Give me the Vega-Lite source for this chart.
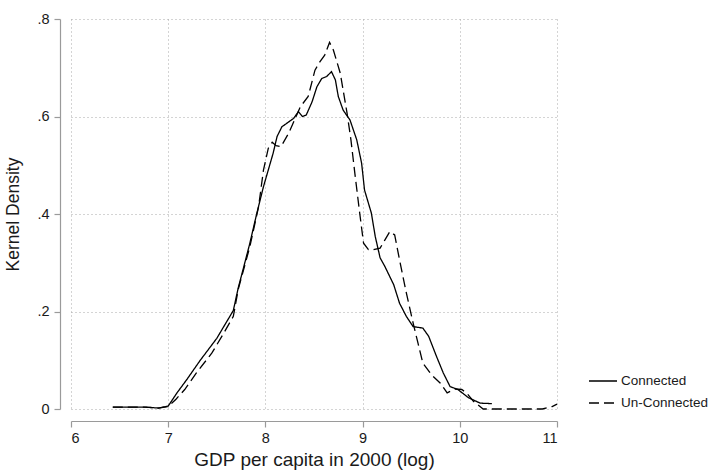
{
  "$schema": "https://vega.github.io/schema/vega-lite/v6.json",
  "autosize": {"type": "none"},
  "padding": {"left": 71, "top": 19, "right": 154, "bottom": 61},
  "width": 486,
  "height": 390,
  "background": "white",
  "config": {
    "font": "Liberation Sans",
    "view": {"stroke": null},
    "axis": {
      "gridColor": "#a8a8a8",
      "gridDash": [1, 3],
      "gridWidth": 1,
      "domainColor": "#9a9a9a",
      "tickColor": "#9a9a9a",
      "domainWidth": 1.2,
      "tickWidth": 1.2,
      "tickSize": 6,
      "labelColor": "#1a1a1a",
      "labelFont": "Liberation Sans",
      "labelFontSize": 14.5,
      "titleFont": "Liberation Sans",
      "titleFontWeight": "normal",
      "titleColor": "#1a1a1a"
    }
  },
  "data": {
    "values": [
      {"x": 6.43, "y": 0.004, "g": "Connected"},
      {"x": 6.6, "y": 0.004, "g": "Connected"},
      {"x": 6.75, "y": 0.004, "g": "Connected"},
      {"x": 6.9, "y": 0.002, "g": "Connected"},
      {"x": 7.0, "y": 0.006, "g": "Connected"},
      {"x": 7.09, "y": 0.033, "g": "Connected"},
      {"x": 7.19, "y": 0.06, "g": "Connected"},
      {"x": 7.33, "y": 0.1, "g": "Connected"},
      {"x": 7.5, "y": 0.145, "g": "Connected"},
      {"x": 7.67, "y": 0.202, "g": "Connected"},
      {"x": 7.72, "y": 0.248, "g": "Connected"},
      {"x": 7.77, "y": 0.286, "g": "Connected"},
      {"x": 7.84, "y": 0.34, "g": "Connected"},
      {"x": 7.91, "y": 0.4, "g": "Connected"},
      {"x": 7.98, "y": 0.456, "g": "Connected"},
      {"x": 8.08, "y": 0.525, "g": "Connected"},
      {"x": 8.12, "y": 0.559, "g": "Connected"},
      {"x": 8.17, "y": 0.579, "g": "Connected"},
      {"x": 8.24, "y": 0.589, "g": "Connected"},
      {"x": 8.29, "y": 0.596, "g": "Connected"},
      {"x": 8.34, "y": 0.61, "g": "Connected"},
      {"x": 8.38, "y": 0.6, "g": "Connected"},
      {"x": 8.42, "y": 0.603, "g": "Connected"},
      {"x": 8.48, "y": 0.63, "g": "Connected"},
      {"x": 8.53, "y": 0.661, "g": "Connected"},
      {"x": 8.58, "y": 0.678, "g": "Connected"},
      {"x": 8.63, "y": 0.682, "g": "Connected"},
      {"x": 8.68, "y": 0.692, "g": "Connected"},
      {"x": 8.72, "y": 0.675, "g": "Connected"},
      {"x": 8.75, "y": 0.641, "g": "Connected"},
      {"x": 8.8, "y": 0.613, "g": "Connected"},
      {"x": 8.87, "y": 0.593, "g": "Connected"},
      {"x": 8.94, "y": 0.552, "g": "Connected"},
      {"x": 8.99, "y": 0.504, "g": "Connected"},
      {"x": 9.02, "y": 0.449, "g": "Connected"},
      {"x": 9.09, "y": 0.402, "g": "Connected"},
      {"x": 9.13, "y": 0.354, "g": "Connected"},
      {"x": 9.18, "y": 0.31, "g": "Connected"},
      {"x": 9.23, "y": 0.292, "g": "Connected"},
      {"x": 9.32, "y": 0.255, "g": "Connected"},
      {"x": 9.38, "y": 0.217, "g": "Connected"},
      {"x": 9.45, "y": 0.19, "g": "Connected"},
      {"x": 9.52, "y": 0.169, "g": "Connected"},
      {"x": 9.62, "y": 0.166, "g": "Connected"},
      {"x": 9.68, "y": 0.149, "g": "Connected"},
      {"x": 9.76, "y": 0.108, "g": "Connected"},
      {"x": 9.83, "y": 0.074, "g": "Connected"},
      {"x": 9.9, "y": 0.046, "g": "Connected"},
      {"x": 9.98, "y": 0.04, "g": "Connected"},
      {"x": 10.09, "y": 0.023, "g": "Connected"},
      {"x": 10.21, "y": 0.012, "g": "Connected"},
      {"x": 10.33, "y": 0.011, "g": "Connected"},
      {"x": 6.43, "y": 0.004, "g": "Un-Connected"},
      {"x": 6.6, "y": 0.004, "g": "Un-Connected"},
      {"x": 6.75, "y": 0.004, "g": "Un-Connected"},
      {"x": 6.9, "y": 0.002, "g": "Un-Connected"},
      {"x": 7.0, "y": 0.005, "g": "Un-Connected"},
      {"x": 7.08, "y": 0.02, "g": "Un-Connected"},
      {"x": 7.17, "y": 0.04, "g": "Un-Connected"},
      {"x": 7.29, "y": 0.074, "g": "Un-Connected"},
      {"x": 7.45, "y": 0.115, "g": "Un-Connected"},
      {"x": 7.57, "y": 0.155, "g": "Un-Connected"},
      {"x": 7.67, "y": 0.19, "g": "Un-Connected"},
      {"x": 7.72, "y": 0.245, "g": "Un-Connected"},
      {"x": 7.84, "y": 0.333, "g": "Un-Connected"},
      {"x": 7.93, "y": 0.415, "g": "Un-Connected"},
      {"x": 7.98, "y": 0.49, "g": "Un-Connected"},
      {"x": 8.03, "y": 0.535, "g": "Un-Connected"},
      {"x": 8.07, "y": 0.547, "g": "Un-Connected"},
      {"x": 8.11, "y": 0.54, "g": "Un-Connected"},
      {"x": 8.16, "y": 0.538, "g": "Un-Connected"},
      {"x": 8.24, "y": 0.566, "g": "Un-Connected"},
      {"x": 8.3, "y": 0.593, "g": "Un-Connected"},
      {"x": 8.36, "y": 0.62, "g": "Un-Connected"},
      {"x": 8.44, "y": 0.641, "g": "Un-Connected"},
      {"x": 8.51, "y": 0.695, "g": "Un-Connected"},
      {"x": 8.56, "y": 0.712, "g": "Un-Connected"},
      {"x": 8.61, "y": 0.726, "g": "Un-Connected"},
      {"x": 8.66, "y": 0.752, "g": "Un-Connected"},
      {"x": 8.7, "y": 0.736, "g": "Un-Connected"},
      {"x": 8.77, "y": 0.689, "g": "Un-Connected"},
      {"x": 8.84, "y": 0.607, "g": "Un-Connected"},
      {"x": 8.88, "y": 0.552, "g": "Un-Connected"},
      {"x": 8.92, "y": 0.484, "g": "Un-Connected"},
      {"x": 8.97, "y": 0.402, "g": "Un-Connected"},
      {"x": 9.01, "y": 0.34, "g": "Un-Connected"},
      {"x": 9.06, "y": 0.327, "g": "Un-Connected"},
      {"x": 9.11, "y": 0.327, "g": "Un-Connected"},
      {"x": 9.18, "y": 0.33, "g": "Un-Connected"},
      {"x": 9.23, "y": 0.347, "g": "Un-Connected"},
      {"x": 9.28, "y": 0.364, "g": "Un-Connected"},
      {"x": 9.33, "y": 0.357, "g": "Un-Connected"},
      {"x": 9.38, "y": 0.306, "g": "Un-Connected"},
      {"x": 9.45, "y": 0.238, "g": "Un-Connected"},
      {"x": 9.52, "y": 0.176, "g": "Un-Connected"},
      {"x": 9.57, "y": 0.135, "g": "Un-Connected"},
      {"x": 9.62, "y": 0.094, "g": "Un-Connected"},
      {"x": 9.71, "y": 0.07, "g": "Un-Connected"},
      {"x": 9.8, "y": 0.053, "g": "Un-Connected"},
      {"x": 9.87, "y": 0.033, "g": "Un-Connected"},
      {"x": 9.95, "y": 0.041, "g": "Un-Connected"},
      {"x": 10.02, "y": 0.04, "g": "Un-Connected"},
      {"x": 10.07, "y": 0.033, "g": "Un-Connected"},
      {"x": 10.14, "y": 0.016, "g": "Un-Connected"},
      {"x": 10.24, "y": 0.0, "g": "Un-Connected"},
      {"x": 10.5, "y": 0.0, "g": "Un-Connected"},
      {"x": 10.85, "y": 0.0, "g": "Un-Connected"},
      {"x": 10.95, "y": 0.005, "g": "Un-Connected"},
      {"x": 11.0, "y": 0.01, "g": "Un-Connected"}
    ]
  },
  "mark": {"type": "line", "color": "black", "strokeWidth": 1.3, "clip": false},
  "encoding": {
    "x": {
      "field": "x", "type": "quantitative",
      "scale": {"domain": [6, 11], "nice": false, "zero": false},
      "axis": {"title": "GDP per capita in 2000 (log)", "titleFontSize": 19, "values": [6, 7, 8, 9, 10, 11], "offset": 12, "labelPadding": 4, "titlePadding": 6}
    },
    "y": {
      "field": "y", "type": "quantitative",
      "scale": {"domain": [0, 0.8], "nice": false},
      "axis": {"title": "Kernel Density", "titleFontSize": 17.5, "values": [0, 0.2, 0.4, 0.6, 0.8], "offset": 11, "labelPadding": 5, "titlePadding": 14,
        "labelExpr": "datum.value == 0 ? '0' : slice(format(datum.value, '.1f'), 1)"}
    },
    "strokeDash": {
      "field": "g", "type": "nominal",
      "scale": {"domain": ["Connected", "Un-Connected"], "range": [[1, 0], [10, 5]]},
      "legend": {
        "title": null, "orient": "none", "legendX": 517, "legendY": 347,
        "symbolType": "stroke", "symbolSize": 784, "symbolStrokeWidth": 1.5, "symbolStrokeColor": "black",
        "labelFontSize": 13.5, "labelFont": "Liberation Sans", "labelColor": "#1a1a1a", "rowPadding": -7, "labelOffset": 3
      }
    }
  }
}
